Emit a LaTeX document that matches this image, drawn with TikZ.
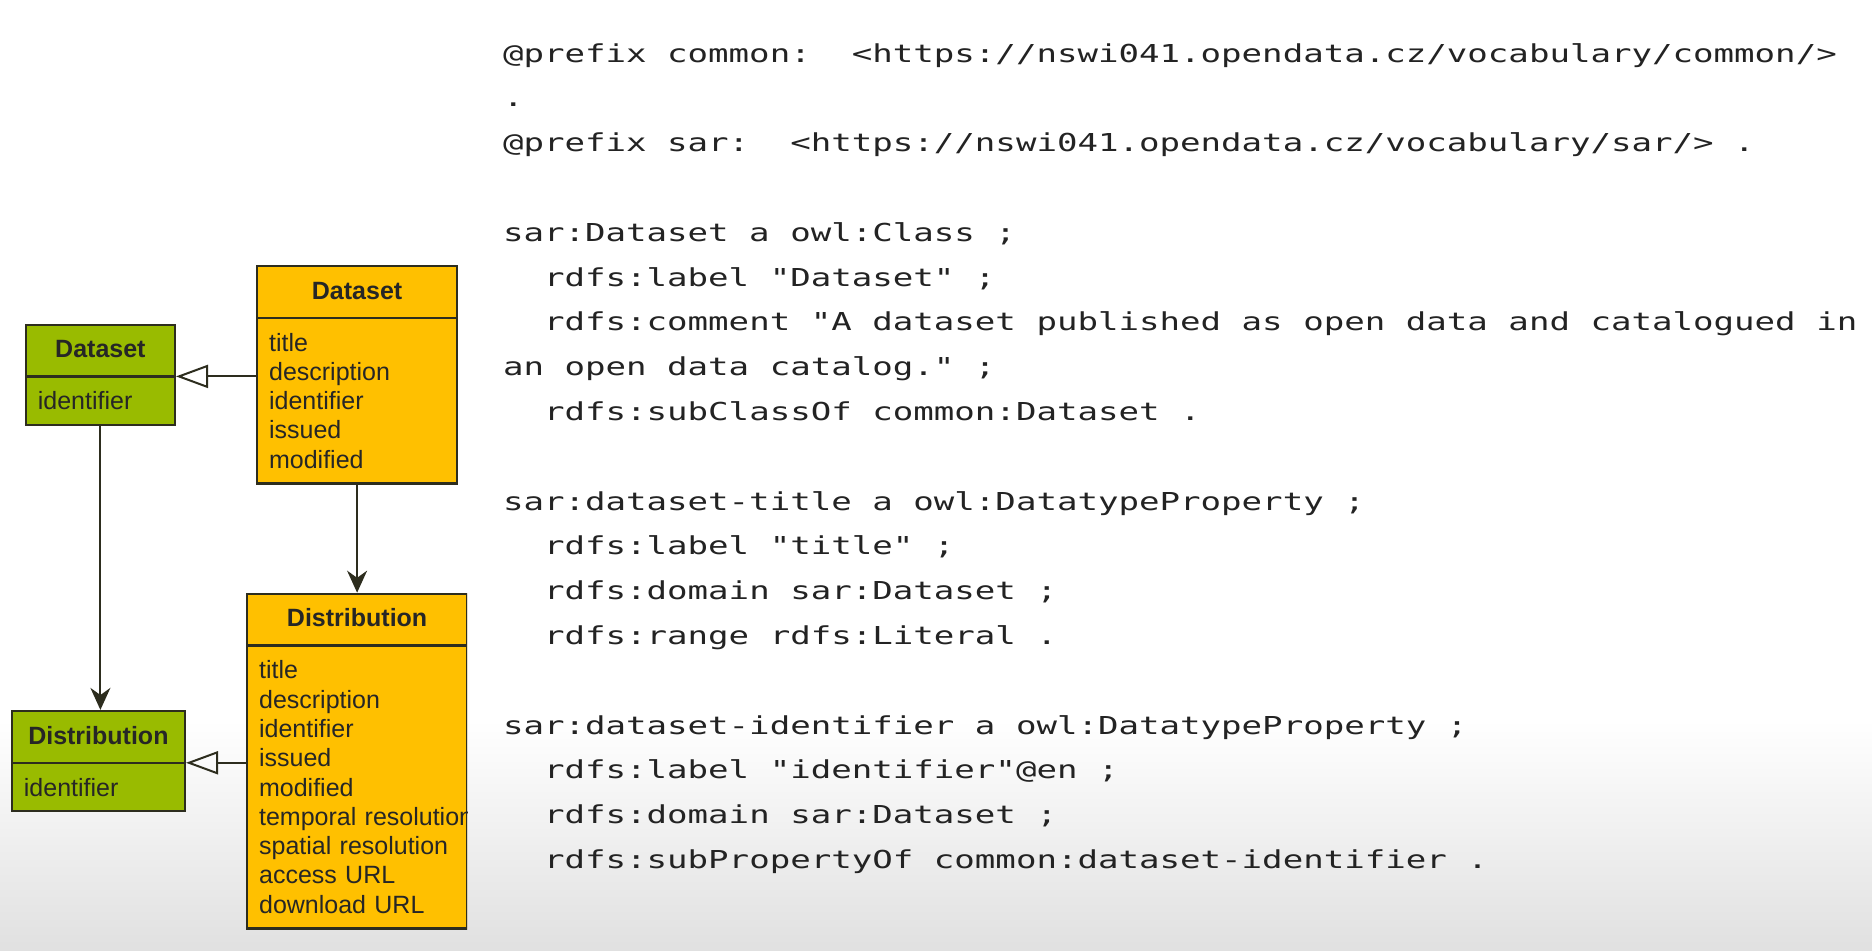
\documentclass[tikz,border=0pt]{standalone}
\usepackage{fontspec}
\setsansfont{Liberation Sans}
\setmonofont{DejaVu Sans Mono}[FakeStretch=1.38]
\usepackage{tikz}
\usetikzlibrary{positioning,shapes.multipart,arrows.meta}
\definecolor{umlgreen}{RGB}{153,187,0}
\definecolor{umlorange}{RGB}{255,192,0}
\definecolor{umlline}{RGB}{45,45,30}
\definecolor{codegray}{RGB}{35,35,35}
\newcommand{\hdr}[1]{\makebox[\linewidth][c]{\rule[-1.75pt]{0pt}{10.75pt}\textbf{#1}}}
\newcommand{\indt}{\phantom{xx}}
\newcommand{\tsp}{\phantom{x}}
\tikzset{
  cls/.style={rectangle split, rectangle split parts=2, draw=umlline, line width=1.1pt, inner xsep=6pt, inner ysep=7pt, align=left, text=black!85, font=\sffamily\fontsize{12.5pt}{14.65pt}\selectfont},
  gcls/.style={cls, fill=umlgreen},
  ocls/.style={cls, fill=umlorange},
  gen/.style={draw=umlline, line width=1pt, -{Triangle[open, length=16pt, width=11.5pt]}},
  assoc/.style={draw=umlline, line width=1pt, -{Stealth[length=11pt, width=10pt]}},
  code/.style={font=\ttfamily\fontsize{12.35pt}{22.4pt}\selectfont, text=codegray, text width=740pt, align=left, inner sep=0pt, anchor=base west}
}

\begin{document}
\begin{tikzpicture}[x=0.5pt, y=-0.5pt]
\useasboundingbox (0,0) rectangle (1872,950);
\fill[white] (0,0) rectangle (1872,950);
\shade[top color=white, bottom color=black!12] (0,720) rectangle (1872,950);

% classes
\node[ocls, text width=88pt, anchor=north west] (dsO) at (256,265)
  {\hdr{Dataset}\nodepart{two}title\\description\\identifier\\issued\\modified};
\node[gcls, text width=62.5pt, left=40pt of dsO] (dsG)
  {\hdr{Dataset}\nodepart{two}identifier};
\begin{scope}
\clip (0,0) rectangle (467,950);
\node[ocls, text width=98pt, below=54pt of dsO] (distO)
  {\hdr{Distribution}\nodepart{two}title\\description\\identifier\\issued\\modified\\\mbox{temporal resolution}\\spatial resolution\\access URL\\download URL};
\end{scope}
\node[gcls, text width=74.5pt, left=30pt of distO] (distG)
  {\hdr{Distribution}\nodepart{two}identifier};

\draw[gen] (dsO.west |- dsG.text split east) -- (dsG.text split east);
\draw[gen] (distO.west |- distG.text split east) -- (distG.text split east);
\draw[assoc] (dsO.south) -- (distO.north);
\draw[assoc] (dsG.south) -- (dsG.south |- distG.north);

% turtle
\node[code] (ttl) at (502.6,62) {@prefix\tsp common:\tsp\tsp<https://nswi041.opendata.cz/vocabulary/common/>\\
.\\
@prefix\tsp sar:\tsp\tsp<https://nswi041.opendata.cz/vocabulary/sar/>\tsp .\\[22.4pt]
sar:Dataset\tsp a\tsp owl:Class\tsp ;\\
\indt rdfs:label\tsp "Dataset"\tsp ;\\
\indt rdfs:comment\tsp "A\tsp dataset\tsp published\tsp as\tsp open\tsp data\tsp and\tsp catalogued\tsp in\\
an\tsp open\tsp data\tsp catalog."\tsp ;\\
\indt rdfs:subClassOf\tsp common:Dataset\tsp .\\[22.4pt]
sar:dataset-title\tsp a\tsp owl:DatatypeProperty\tsp ;\\
\indt rdfs:label\tsp "title"\tsp ;\\
\indt rdfs:domain\tsp sar:Dataset\tsp ;\\
\indt rdfs:range\tsp rdfs:Literal\tsp .\\[22.4pt]
sar:dataset-identifier\tsp a\tsp owl:DatatypeProperty\tsp ;\\
\indt rdfs:label\tsp "identifier"@en\tsp ;\\
\indt rdfs:domain\tsp sar:Dataset\tsp ;\\
\indt rdfs:subPropertyOf\tsp common:dataset-identifier\tsp .};
\end{tikzpicture}
\end{document}
